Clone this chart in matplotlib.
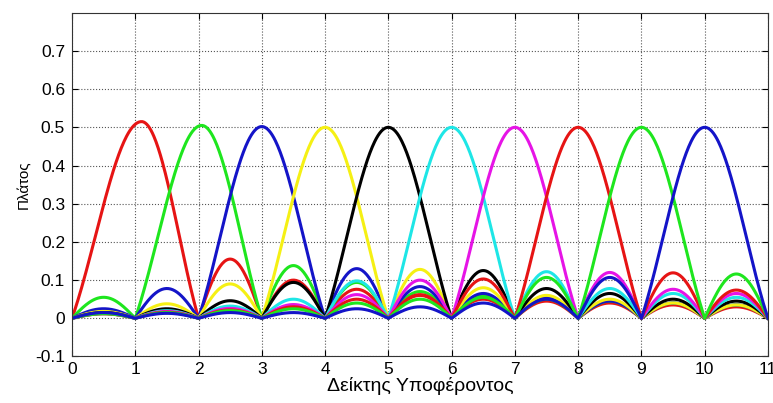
import numpy as np
import matplotlib.pyplot as plt

plt.rcParams['font.family'] = ['Liberation Sans', 'DejaVu Sans']

# subcarrier index, main lobe peak position and height
carriers = [1, 2, 3, 4, 5, 6, 7, 8, 9, 10]
peak_x = [1.1, 2.05, 3.0, 4.0, 5.0, 6.0, 7.0, 8.0, 9.0, 10.0]
peak_y = [0.515, 0.505, 0.502, 0.5, 0.5, 0.5, 0.5, 0.5, 0.5, 0.5]

# side lobe heights on each unit interval [i, i+1], i = 0..10 (None = main lobe)
side_lobes = [
    [None, None, 0.155, 0.100, 0.076, 0.060, 0.050, 0.045, 0.040, 0.035, 0.030],
    [0.055, None, None, 0.138, 0.094, 0.070, 0.060, 0.050, 0.045, 0.040, 0.035],
    [0.025, 0.078, None, None, 0.130, 0.083, 0.065, 0.055, 0.045, 0.040, 0.035],
    [0.018, 0.038, 0.090, None, None, 0.128, 0.080, 0.060, 0.050, 0.040, 0.035],
    [0.015, 0.025, 0.046, 0.094, None, None, 0.125, 0.078, 0.065, 0.050, 0.045],
    [0.013, 0.020, 0.032, 0.050, 0.098, None, None, 0.122, 0.078, 0.065, 0.055],
    [0.012, 0.018, 0.026, 0.036, 0.062, 0.100, None, None, 0.120, 0.076, 0.065],
    [0.012, 0.016, 0.022, 0.030, 0.050, 0.062, 0.103, None, None, 0.119, 0.074],
    [0.012, 0.015, 0.020, 0.025, 0.040, 0.050, 0.055, 0.107, None, None, 0.116],
    [0.015, 0.013, 0.015, 0.015, 0.025, 0.030, 0.040, 0.050, 0.107, None, None],
]

colors = ['#e61414', '#1ee61e', '#1414c8', '#f5f014', '#000000',
          '#1ee6e6', '#e614e6', '#e61414', '#1ee61e', '#1414c8']

yticks = [-0.1, 0, 0.1, 0.2, 0.3, 0.4, 0.5, 0.6, 0.7]
ytick_labels = ['-0.1', '0', '0.1', '0.2', '0.3', '0.4', '0.5', '0.6', '0.7']


def arch(x0, x1, h, n=60):
    # one side lobe between two nulls
    x = np.linspace(x0, x1, n)
    return x, h * np.sin(np.pi * (x - x0) / (x1 - x0))


def main_lobe(k, xp, h, n=80):
    # main lobe between nulls k-1 and k+1, peak at xp
    xl = np.linspace(k - 1, xp, n)
    ul = (xp - xl) / (xp - (k - 1))
    xr = np.linspace(xp, k + 1, n)
    ur = (xr - xp) / ((k + 1) - xp)
    x = np.concatenate([xl, xr[1:]])
    u = np.concatenate([ul, ur[1:]])
    return x, h * np.sinc(u)


fig = plt.figure(figsize=(7.73, 4.03), dpi=100)
ax = fig.add_axes([0.0931, 0.1154, 0.9004, 0.853])

for k, xp, h, lobes, c in zip(carriers, peak_x, peak_y, side_lobes, colors):
    xs, ys = [], []
    i = 0
    while i < len(lobes):
        if lobes[i] is None:
            x, y = main_lobe(k, xp, h)
            i += 2
        else:
            x, y = arch(i, i + 1, lobes[i])
            i += 1
        xs.append(x)
        ys.append(y)
    ax.plot(np.concatenate(xs), np.concatenate(ys), color=c, lw=2.2,
            solid_joinstyle='round')

ax.set_xlim(0, 11)
ax.set_ylim(-0.1, 0.8)
ax.set_xticks(range(0, 12))
ax.set_yticks(yticks)
ax.set_yticklabels(ytick_labels)
ax.grid(True, linestyle=':', color='#555555', lw=0.8)
ax.tick_params(direction='in', top=True, right=True, labelsize=12.5,
               length=4)
ax.tick_params(axis='x', pad=4)
ax.tick_params(axis='y', pad=5)
for s in ax.spines.values():
    s.set_color('#333333')
    s.set_linewidth(0.8)

ax.set_xlabel('Δείκτης Υποφέροντος', fontsize=14, labelpad=0)
ax.set_ylabel('Πλάτος', fontsize=11, labelpad=3)

fig.savefig('out.png', dpi=100)
